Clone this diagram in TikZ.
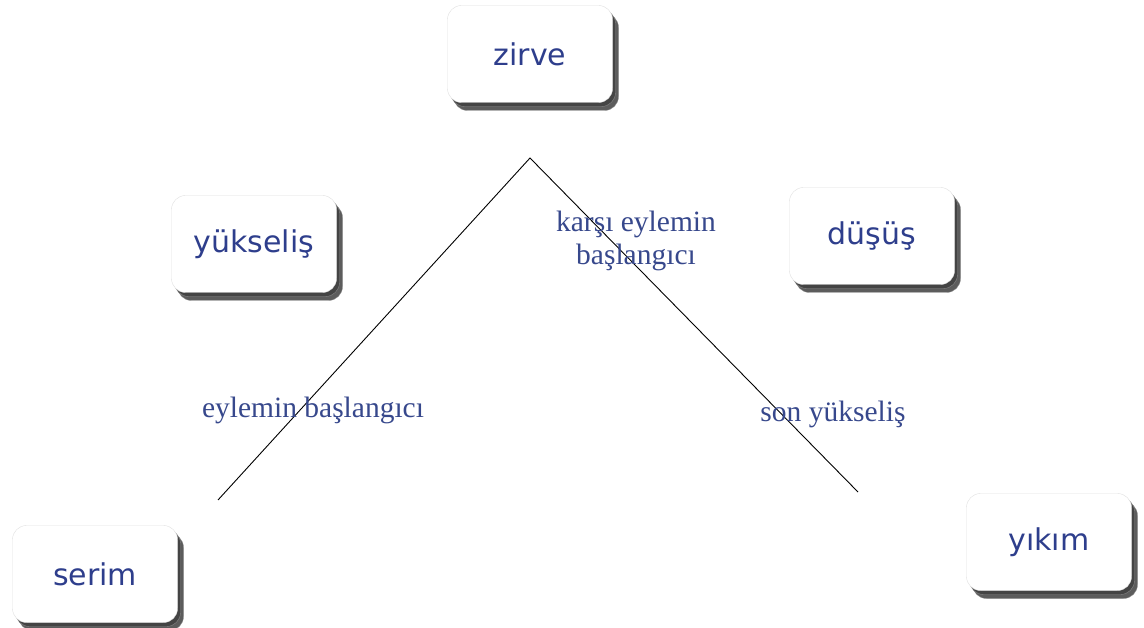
\documentclass[tikz,border=0pt]{standalone}
\usepackage{fontspec}
\setmainfont{Liberation Serif}
\newfontfamily\boxfont{DejaVu Sans}
\usetikzlibrary{shadows}
\definecolor{boxtext}{RGB}{46,62,140}
\definecolor{labtext}{RGB}{55,72,140}
\begin{document}
\begin{tikzpicture}[x=1pt,y=-1pt,
  card/.style={draw=black!12, fill=white, rounded corners=14pt, minimum width=165pt, minimum height=97pt,
    inner sep=0pt, font=\boxfont\fontsize{30}{33}\selectfont, text=boxtext,
    double copy shadow={shadow xshift=3pt, shadow yshift=-4pt, fill=black!75, draw=black!45, opacity=0.85}},
  lab/.style={font=\fontsize{29.5}{33}\selectfont, text=labtext, align=center, inner sep=0pt},
  edge/.style={draw=black, line width=0.9pt}]
\useasboundingbox (0,0) rectangle (1144,628);
\node[card] (zirve) at (530,54) {zirve};
\node[card] (yukselis) at (254,244) {yükseliş};
\node[card] (dusus) at (872,236) {düşüş};
\node[card] (serim) at (95,574) {serim};
\node[card] (yikim) at (1049,542) {yıkım};
\coordinate (apex) at (530,158);
\coordinate (lend) at (218,500);
\coordinate (rend) at (858,492);
\draw[edge] (lend) -- (apex) -- (rend);
\node[lab] (l1) at (636,241) {karşı eylemin\\başlangıcı};
\node[lab] (l2) at (313,410) {eylemin başlangıcı};
\node[lab] (l3) at (833,414) {son yükseliş};
\end{tikzpicture}
\end{document}
